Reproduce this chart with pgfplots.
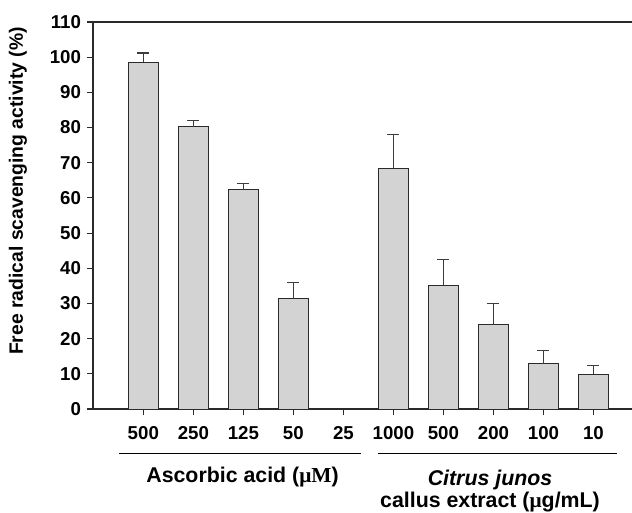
\documentclass[border=0pt]{standalone}
\usepackage{pgfplots}
\pgfplotsset{compat=1.18}
\usepackage{fontspec}
\setmainfont{Liberation Sans}
\newfontfamily\symfont{Liberation Serif}
\definecolor{barfill}{HTML}{D3D3D3}
\definecolor{barline}{HTML}{2A2A2A}
\definecolor{errline}{HTML}{3C3C3C}

\pgfplotstableread{
pos val err
0 98.5 2.7
1 80.2 1.9
2 62.3 1.8
3 31.3 4.6
5 68.5 9.5
6 35.2 7.4
7 24.0 5.9
8 12.9 3.7
9 9.9 2.4
}\scavenging

\begin{document}
\begin{tikzpicture}[x=0.75pt,y=0.75pt]
\useasboundingbox (-93,-103) rectangle (539,409);
\begin{axis}[
  scale only axis,
  width=404.25pt, height=290.25pt,
  xmin=-1.006, xmax=9.77,
  ymin=0, ymax=110,
  ytick={0,10,...,110},
  xtick={0,...,9},
  xticklabels={500,250,125,50,25,1000,500,200,100,10},
  axis lines=left,
  axis line style={-, color=barline, line width=1pt},
  tick style={color=barline, line width=0.8pt},
  tick align=outside,
  major tick length=4.5pt,
  xtick pos=bottom, ytick pos=left,
  /pgf/number format/assume math mode=true,
  ticklabel style={font=\fontsize{14}{16}\selectfont\bfseries},
  xticklabel style={yshift=-5pt},
  yticklabel style={xshift=-1pt},
  clip=false,
]
\addplot[ybar, bar width=22.5pt, fill=barfill, draw=barline, line width=0.75pt,
  error bars/.cd, y dir=plus, y explicit,
  error bar style={color=errline, line width=0.9pt},
  error mark options={rotate=90, color=errline, line width=0.9pt, mark size=4.5pt}]
  table[x=pos, y=val, y error=err] {\scavenging};
\draw[barline, line width=1pt] (rel axis cs:0,1) -- (rel axis cs:1,1);
\end{axis}
% group captions below the axis
\draw[black, line width=1.1pt] (26.3,-44.3) -- (268,-44.3);
\draw[black, line width=1.1pt] (284.7,-44.3) -- (524.3,-44.3);
\node[font=\fontsize{16}{18}\selectfont\bfseries] at (149.5,-68)
  {Ascorbic acid ({\symfont μM})};
\node[font=\fontsize{16}{18}\selectfont\bfseries] at (397,-70.5) {\itshape Citrus junos};
\node[font=\fontsize{16}{18}\selectfont\bfseries] at (397,-93)
  {callus extract ({\symfont μ}g/mL)};
\node[rotate=90, font=\fontsize{14.5}{16}\selectfont\bfseries] at (-75,218)
  {Free radical scavenging activity (\%)};
\end{tikzpicture}
\end{document}
